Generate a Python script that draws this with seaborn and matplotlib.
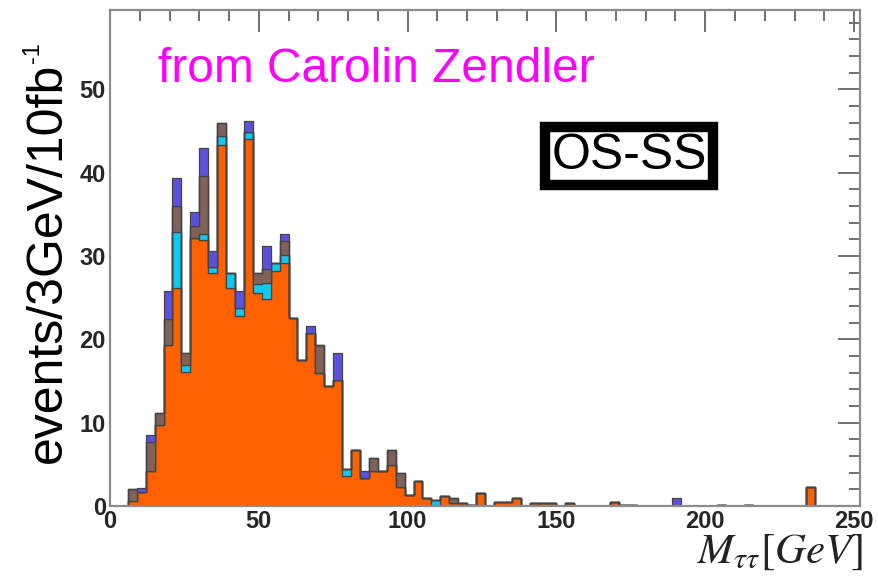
import numpy as np
import pandas as pd
import matplotlib
matplotlib.use('Agg')
import matplotlib.pyplot as plt
import seaborn as sns
from matplotlib.ticker import MultipleLocator

# 3 GeV bins, 0 - 252 GeV (84 bins)
bin_edges = list(range(0, 255, 3))

# events per bin, one list per sample (bottom -> top of the stack)
orange = [0, 0, 0.6, 1.7, 4.2, 9.7, 19.3, 26.2, 16.1, 32.2, 31.9, 27.9,
          43.3, 26.1, 22.8, 44.0, 25.5, 24.8, 28.2, 29.1, 22.5, 17.5, 20.7, 16.0,
          14.4, 15.1, 3.6, 6.7, 3.3, 4.2, 4.2, 4.9, 2.3, 1.3, 3.0, 0.9,
          0, 1.2, 0.3, 0.4, 0.1, 1.6, 0, 0.5, 0.5, 1.0, 0, 0.3,
          0.3, 0.3, 0, 0.3, 0, 0, 0, 0, 0.5, 0.1, 0.1, 0,
          0, 0, 0, 0, 0, 0, 0, 0, 0.1, 0, 0, 0.1,
          0, 0, 0, 0, 0, 0, 2.3, 0, 0, 0, 0, 0]
cyan = [0, 0, 0, 0, 0, 0, 0, 6.7, 0.8, 0, 0.7, 0.8,
        1.1, 1.9, 0.9, 0.9, 1.1, 1.9, 1.0, 1.0, 0, 0, 0, 0,
        0, 0, 0.8, 0, 0, 0, 0, 0, 0, 0, 0, 0,
        0.7, 0, 0, 0, 0, 0, 0, 0, 0, 0, 0, 0] + [0] * 36
brown = [0, 0, 1.4, 0, 3.5, 1.4, 3.1, 3.1, 1.4, 1.4, 7.0, 0,
         1.6, 0, 0, 0, 1.4, 1.7, 0, 1.7, 0, 0, 0, 3.3,
         0, 0, 0, 0, 0, 1.5, 0, 1.8, 1.7, 0, 0, 0,
         0, 0, 0.6, 0, 0, 0, 0, 0, 0, 0, 0, 0] + [0] * 36
blue = [0, 0, 0, 0.4, 0.8, 0, 3.4, 3.4, 0, 1.7, 3.4, 1.9,
        0, 0, 2.1, 1.3, 0, 2.8, 0, 0.8, 0, 0, 0.9, 0,
        0, 3.3, 0, 0, 0.9, 0, 0, 0, 0, 0, 0, 0] + [0] * 27 + [0.9] + [0] * 20

samples = ['orange', 'cyan', 'brown', 'blue']
colours = {'orange': '#ff6000', 'cyan': '#10c8f0', 'brown': '#806258', 'blue': '#5a52dc'}

centers = np.array(bin_edges[:-1]) + 1.5
df = pd.DataFrame({
    'mass': np.tile(centers, len(samples)),
    'events': np.concatenate([orange, cyan, brown, blue]),
    'sample': np.repeat(samples, len(centers)),
})

sns.set_style('white')
plt.rcParams['font.family'] = ['Liberation Sans', 'DejaVu Sans']
plt.rcParams['mathtext.fontset'] = 'stix'

fig = plt.figure(figsize=(8.79, 5.78), dpi=100)
ax = fig.add_axes([110 / 879, 1 - 506 / 578, 750 / 879, 496 / 578])

sns.histplot(data=df, x='mass', weights='events', hue='sample',
             hue_order=samples[::-1], palette=colours, bins=bin_edges,
             multiple='stack', element='step', fill=True, alpha=1,
             edgecolor='#444444', linewidth=0.9, legend=False, ax=ax)

ax.set_xlim(0, 252)
ax.set_ylim(0, 59.5)
ax.set_xlabel('')
ax.set_ylabel('')

# ROOT style frame and ticks
for sp in ax.spines.values():
    sp.set_color('#8c8c8c')
    sp.set_linewidth(1.6)
ax.xaxis.set_major_locator(MultipleLocator(50))
ax.xaxis.set_minor_locator(MultipleLocator(10))
ax.yaxis.set_major_locator(MultipleLocator(10))
ax.yaxis.set_minor_locator(MultipleLocator(2))
ax.tick_params(which='both', direction='in', top=True, right=True, color='#707070', width=1.4)
ax.tick_params(which='major', length=16)
ax.tick_params(which='minor', length=8)
ax.tick_params(axis='x', labelsize=17, pad=3)
ax.tick_params(axis='y', labelsize=17, pad=3)
for lab in ax.get_xticklabels() + ax.get_yticklabels():
    lab.set_fontweight('bold')

# y title with a small superscript, x title in serif italic
fig.text(48 / 879, 1 - 263 / 578, 'events/3GeV/10fb', rotation=90,
         fontsize=36, ha='center', va='center', color='black')
fig.text(33 / 879, 1 - 53 / 578, '-1', rotation=90,
         fontsize=17, ha='center', va='center', color='black')
fig.text(0.982, 1 - 563 / 578, r'$M_{\tau\tau}\left[GeV\right]$', fontsize=31,
         ha='right', va='baseline', color='#222222')

ax.text(158 / 879, 1 - 82 / 578, 'from Carolin Zendler', transform=fig.transFigure,
        fontsize=34.5, color='#ff00ff', ha='left', va='baseline')
ax.text(629 / 879, 1 - 156 / 578, 'OS-SS', transform=fig.transFigure,
        fontsize=36, color='black', ha='center', va='center',
        bbox=dict(boxstyle='square,pad=0.12', facecolor='white', edgecolor='black', linewidth=7.5))

fig.savefig('out.png', dpi=100)
